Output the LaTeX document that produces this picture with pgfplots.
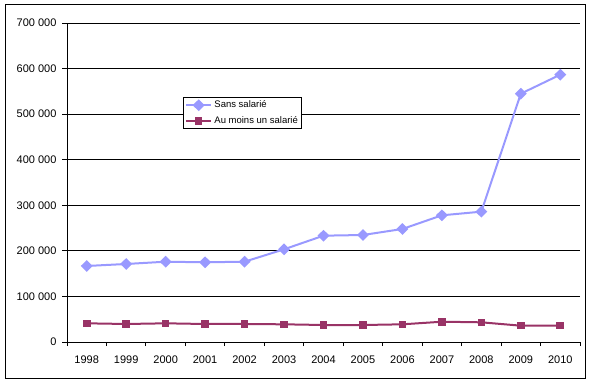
\documentclass[border=0pt]{standalone}
\usepackage{pgfplots}
\pgfplotsset{compat=1.18}
\usepackage{fontspec}
\setmainfont{Liberation Sans}
\definecolor{sans}{HTML}{9999FF}
\definecolor{aumoins}{HTML}{993366}
\begin{document}
\begin{tikzpicture}
\path (0,0) rectangle (591bp,385bp);
\draw[line width=1bp] (5.5bp,6bp) rectangle (585.5bp,380bp);
\begin{axis}[
  at={(67bp,43bp)}, anchor=south west,
  scale only axis, width=513bp, height=319bp,
  xmin=-0.5, xmax=12.5, ymin=0, ymax=700000,
  axis x line*=bottom, axis y line*=left,
  axis line style={line width=1bp, black, -},
  xtick={0,...,12},
  xticklabels={1998,1999,2000,2001,2002,2003,2004,2005,2006,2007,2008,2009,2010},
  major x tick style={draw=none},
  minor xtick={-0.5,0.5,...,12.5},
  minor tick length=4bp,
  minor x tick style={line width=1bp, black},
  ytick={0,100000,...,700000},
  major tick length=5bp,
  tick align=outside,
  y tick style={line width=1bp, black},
  ymajorgrids, grid style={line width=1bp, black},
  scaled y ticks=false,
  /pgf/number format/.cd, fixed, 1000 sep={\ }, assume math mode=true,
  /pgfplots/.cd,
  tick label style={font=\fontsize{11bp}{12bp}\selectfont},
  xticklabel style={yshift=-5bp},
  yticklabel style={xshift=-2bp},
  legend style={at={(0.226,0.768)}, anchor=north west, draw=black, line width=1bp,
    font=\fontsize{9.5bp}{11bp}\selectfont, inner sep=1.5pt, row sep=3bp,
    cells={anchor=west}},
  legend image code/.code={\draw[mark repeat=2,mark phase=2] plot coordinates {(0cm,0cm) (0.45cm,0cm) (0.9cm,0cm)};},
]
\addplot[sans, line width=2bp, mark=diamond*, mark size=4.5bp, mark options={solid, xscale=1.35}] coordinates {
(0,166800) (1,171200) (2,176200) (3,174900) (4,176200) (5,203400) (6,233300)
(7,234800) (8,248000) (9,278000) (10,286000) (11,544900) (12,586600)};
\addlegendentry{Sans salarié}
\addplot[aumoins, line width=2bp, mark=square*, mark size=2.8bp] coordinates {
(0,41000) (1,39500) (2,41000) (3,39500) (4,39500) (5,38800) (6,37300)
(7,37300) (8,38800) (9,44500) (10,43200) (11,35800) (12,35800)};
\addlegendentry{Au moins un salarié}
\end{axis}
\end{tikzpicture}
\end{document}
